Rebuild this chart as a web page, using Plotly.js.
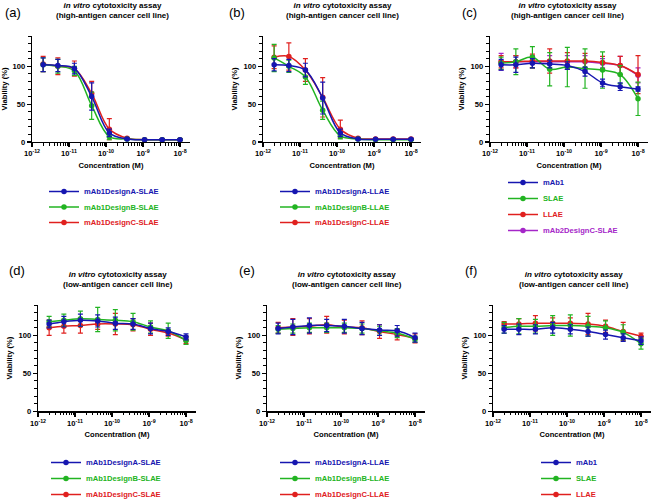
<!DOCTYPE html>
<html><head><meta charset="utf-8">
<script src="https://cdn.plot.ly/plotly-3.0.1.min.js"></script>
<style>html,body{margin:0;padding:0;background:#fff}#chart{width:655px;height:501px}</style>
</head><body><div id="chart"></div>
<script>
// ---------- DATA ----------
const conc = [2e-12, 5e-12, 1.4e-11, 4.1e-11, 1.23e-10, 3.7e-10, 1.1e-9, 3.3e-9, 1e-8];
const xTickVals = [1e-12, 1e-11, 1e-10, 1e-9, 1e-8];
const xTickText = ['<b>10<sup>-12</sup></b>', '<b>10<sup>-11</sup></b>', '<b>10<sup>-10</sup></b>', '<b>10<sup>-9</sup></b>', '<b>10<sup>-8</sup></b>'];
const yTickVals = [0, 50, 100];
const yTickText = ['<b>0</b>', '<b>50</b>', '<b>100</b>'];
const xTitle = '<b>Concentration (M)</b>';
const yTitle = '<b>Viability (%)</b>';
const panelLabels = ['(a)', '(b)', '(c)', '(d)', '(e)', '(f)'];
const titleHigh = '<b><i>in vitro</i> cytotoxicity assay</b><br><b>(high-antigen cancer cell line)</b>';
const titleLow = '<b><i>in vitro</i> cytotoxicity assay</b><br><b>(low-antigen cancer cell line)</b>';

// (a) high-antigen, SLAE designs
const aNames = ['mAb1DesignA-SLAE', 'mAb1DesignB-SLAE', 'mAb1DesignC-SLAE'];
const aDesignA = [102, 101, 97, 60, 12, 4, 3, 3, 3];
const aDesignAErr = [9, 8, 7, 18, 5, 1, 1, 1, 1];
const aDesignB = [102, 100, 94, 48, 7, 4, 3, 3, 3];
const aDesignBErr = [9, 9, 6, 18, 4, 1, 1, 1, 1];
const aDesignC = [103, 100, 97, 64, 17, 5, 3, 3, 3];
const aDesignCErr = [10, 11, 10, 16, 14, 1, 1, 1, 1];

// (b) high-antigen, LLAE designs
const bNames = ['mAb1DesignA-LLAE', 'mAb1DesignB-LLAE', 'mAb1DesignC-LLAE'];
const bDesignA = [102, 101, 95, 58, 12, 4, 3.5, 3.5, 3.5];
const bDesignAErr = [8, 8, 9, 21, 5, 1, 1, 1, 1];
const bDesignB = [111, 100, 86, 42, 8, 4, 3, 3, 3];
const bDesignBErr = [18, 8, 10, 12, 4, 1, 1, 1, 1];
const bDesignC = [112, 113, 95, 59, 17, 5, 4, 4, 4];
const bDesignCErr = [15, 18, 15, 26, 12, 1, 1, 1, 1];

// (c) high-antigen, controls
const cNames = ['mAb1', 'SLAE', 'LLAE', 'mAb2DesignC-SLAE'];
const cMab1 = [102, 102, 104, 103, 101, 93, 78, 73, 70];
const cMab1Err = [7, 10, 6, 5, 5, 6, 5, 5, 3];
const cSLAE = [104, 106, 112, 96, 99, 97, 95, 89, 57];
const cSLAEErr = [8, 17, 14, 22, 26, 26, 24, 12, 22];
const cLLAE = [106, 106, 107, 107, 107, 107, 105, 101, 89];
const cLLAEErr = [8, 8, 9, 16, 11, 10, 8, 12, 25];
const cMab2C = [106, 106, 106, 106, 106, 106, 104, 101, 88];
const cMab2CErr = [11, 8, 8, 8, 8, 8, 6, 12, 10];

// (d) low-antigen, SLAE designs
const dNames = ['mAb1DesignA-SLAE', 'mAb1DesignB-SLAE', 'mAb1DesignC-SLAE'];
const dDesignA = [115, 118, 120, 119, 116, 115, 109, 105, 98];
const dDesignAErr = [5, 7, 8, 8, 8, 7, 7, 5, 4];
const dDesignB = [118, 120, 122, 121, 120, 118, 111, 106, 93];
const dDesignBErr = [7, 8, 10, 16, 14, 11, 8, 10, 5];
const dDesignC = [110, 112, 113, 115, 115, 114, 108, 103, 94];
const dDesignCErr = [10, 9, 10, 7, 14, 8, 8, 4, 5];

// (e) low-antigen, LLAE designs
const eNames = ['mAb1DesignA-LLAE', 'mAb1DesignB-LLAE', 'mAb1DesignC-LLAE'];
const eDesignA = [109, 111, 113, 113, 112, 109, 107, 106, 97];
const eDesignAErr = [7, 10, 10, 8, 9, 8, 7, 7, 6];
const eDesignB = [108, 109, 110, 110, 110, 109, 106, 103, 95];
const eDesignBErr = [5, 6, 6, 6, 6, 6, 6, 6, 4];
const eDesignC = [110, 111, 112, 114, 111, 110, 105, 101, 96];
const eDesignCErr = [7, 11, 10, 11, 9, 9, 9, 7, 6];

// (f) low-antigen, controls
const fNames = ['mAb1', 'SLAE', 'LLAE'];
const fMab1 = [108, 108, 108, 110, 108, 105, 101, 97, 93];
const fMab1Err = [5, 7, 6, 7, 6, 6, 6, 5, 5];
const fSLAE = [110, 112, 112, 113, 113, 112, 110, 104, 89];
const fSLAEErr = [7, 10, 9, 13, 14, 13, 9, 10, 7];
const fLLAE = [115, 115, 116, 116, 116, 115, 112, 105, 99];
const fLLAEErr = [3, 7, 10, 7, 7, 14, 8, 12, 4];

// ---------- STYLE / LAYOUT ----------
const W = 655, H = 501;
const BLUE = '#1616b0', GREEN = '#22b422', RED = '#e0201e', PURPLE = '#a526c8';
const FONT = 'Liberation Sans, Arial, sans-serif';
const px = v => v / W;
const py = v => 1 - v / H;

const panels = [
  {names: aNames, ys: [aDesignA, aDesignB, aDesignC], errs: [aDesignAErr, aDesignBErr, aDesignCErr],
   colors: [BLUE, GREEN, RED], x0: 32, row: 0, title: titleHigh, tx: 112, lx: 3, legX: 84, legY: 191, legDy: 15.5},
  {names: bNames, ys: [bDesignA, bDesignB, bDesignC], errs: [bDesignAErr, bDesignBErr, bDesignCErr],
   colors: [BLUE, GREEN, RED], x0: 263, row: 0, title: titleHigh, tx: 342, lx: 227, legX: 315, legY: 191, legDy: 15.5},
  {names: cNames, ys: [cMab1, cSLAE, cLLAE, cMab2C], errs: [cMab1Err, cSLAEErr, cLLAEErr, cMab2CErr],
   colors: [BLUE, GREEN, RED, PURPLE], x0: 490, row: 0, title: titleHigh, tx: 567, lx: 460, legX: 543, legY: 182, legDy: 16},
  {names: dNames, ys: [dDesignA, dDesignB, dDesignC], errs: [dDesignAErr, dDesignBErr, dDesignCErr],
   colors: [BLUE, GREEN, RED], x0: 38, row: 1, title: titleLow, tx: 118, lx: 7, legX: 86, legY: 462, legDy: 16},
  {names: eNames, ys: [eDesignA, eDesignB, eDesignC], errs: [eDesignAErr, eDesignBErr, eDesignCErr],
   colors: [BLUE, GREEN, RED], x0: 267, row: 1, title: titleLow, tx: 347, lx: 237, legX: 315, legY: 462, legDy: 16},
  {names: fNames, ys: [fMab1, fSLAE, fLLAE], errs: [fMab1Err, fSLAEErr, fLLAEErr],
   colors: [BLUE, GREEN, RED], x0: 493, row: 1, title: titleLow, tx: 574, lx: 463, legX: 576, legY: 462, legDy: 16}
];

const rows = [{top: 36, bottom: 142, titleY: 10.5, labelY: 12.5}, {top: 305, bottom: 411.3, titleY: 279.5, labelY: 270.5}];
const axW = 158;

const minorX = [];
[-12, -11, -10, -9].forEach(e => { for (let k = 2; k <= 9; k++) minorX.push(k * Math.pow(10, e)); });

const data = [];
const layout = {
  width: W, height: H, margin: {l: 0, r: 0, t: 0, b: 0, autoexpand: false},
  paper_bgcolor: '#fff', plot_bgcolor: '#fff', showlegend: true,
  font: {family: FONT, size: 7.6, color: '#000'},
  annotations: []
};

panels.forEach((p, i) => {
  const n = i + 1;
  const xa = 'xaxis' + (n === 1 ? '' : n), ya = 'yaxis' + (n === 1 ? '' : n);
  const xr = 'x' + (n === 1 ? '' : n), yr = 'y' + (n === 1 ? '' : n);
  const r = rows[p.row];
  layout[xa] = {
    type: 'log', range: [-12, -7.73], domain: [px(p.x0), px(p.x0 + axW)], anchor: yr,
    showgrid: false, zeroline: false, showline: true, linecolor: '#000', linewidth: 1.3,
    ticks: 'outside', ticklen: 4, tickwidth: 1.2, tickcolor: '#000',
    tickmode: 'array', tickvals: xTickVals, ticktext: xTickText,
    tickfont: {family: FONT, size: 7.6, color: '#000'},
    minor: {tickmode: 'array', tickvals: minorX, ticks: 'outside', ticklen: 2.5, tickwidth: 1, tickcolor: '#000', showgrid: false},
    title: {text: xTitle, font: {family: FONT, size: 7.6, color: '#000'}, standoff: 5}
  };
  layout[ya] = {
    range: [0, 140], domain: [py(r.bottom), py(r.top)], anchor: xr,
    showgrid: false, zeroline: false, showline: true, linecolor: '#000', linewidth: 1.3,
    ticks: 'outside', ticklen: 4, tickwidth: 1.2, tickcolor: '#000',
    tickmode: 'array', tickvals: yTickVals, ticktext: yTickText,
    tickfont: {family: FONT, size: 7.6, color: '#000'},
    minor: {dtick: 10, ticks: 'outside', ticklen: 2.5, tickwidth: 1, tickcolor: '#000', showgrid: false},
    title: {text: yTitle, font: {family: FONT, size: 7.6, color: '#000'}, standoff: 4}
  };
  const base = data.length;
  // drawn in reverse so the first series sits on top; each entry has its own legend box
  for (let s = p.names.length - 1; s >= 0; s--) {
    const idx = base + s + 1;
    const lid = idx === 1 ? 'legend' : 'legend' + idx;
    const c = p.colors[s];
    data.push({
      type: 'scatter', mode: 'lines+markers', x: conc, y: p.ys[s], xaxis: xr, yaxis: yr,
      name: '<span style="color:' + c + '"><b>' + p.names[s] + '</b></span>',
      legend: lid,
      line: {color: c, width: 1.5, shape: 'spline', smoothing: 1},
      marker: {color: c, size: 5.5, symbol: 'circle'},
      error_y: {type: 'data', array: p.errs[s], visible: true, color: c, thickness: 1.2, width: 2.5},
      cliponaxis: false
    });
    layout[lid] = {
      x: px(p.legX - 40), xanchor: 'left', y: py(p.legY + s * p.legDy - 14), yanchor: 'top',
      bgcolor: 'rgba(0,0,0,0)', borderwidth: 0, itemwidth: 30,
      font: {family: FONT, size: 7.6, color: '#000'}
    };
  }
  layout.annotations.push({
    text: p.title, xref: 'paper', yref: 'paper', x: px(p.tx), y: py(r.titleY),
    xanchor: 'center', yanchor: 'middle', showarrow: false, align: 'center',
    font: {family: FONT, size: 8, color: '#000'}
  });
  layout.annotations.push({
    text: panelLabels[i], xref: 'paper', yref: 'paper', x: px(p.lx), y: py(r.labelY),
    xanchor: 'left', yanchor: 'middle', showarrow: false,
    font: {family: FONT, size: 13, color: '#000'}
  });
});

Plotly.newPlot('chart', data, layout, {displayModeBar: false, staticPlot: true});
</script>
</body></html>
